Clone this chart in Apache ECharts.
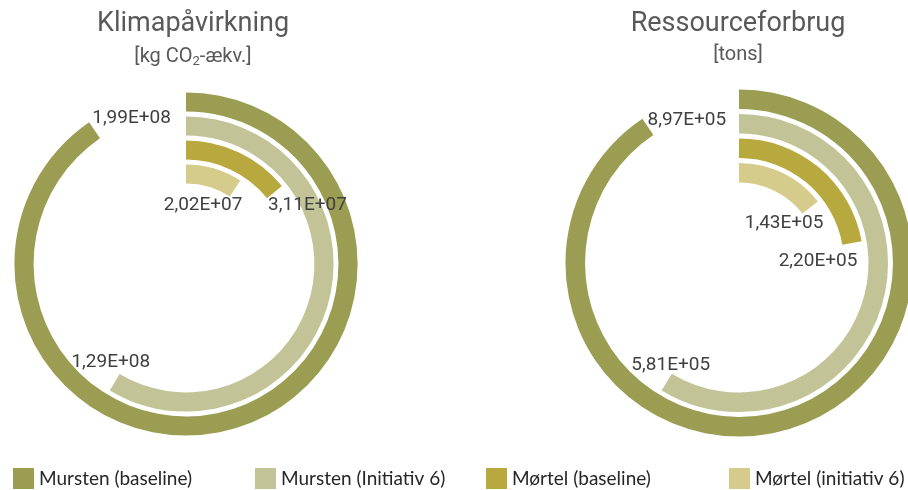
<!DOCTYPE html>
<html lang="da">
<head>
    <meta charset="UTF-8">
    <title>Klimapåvirkning og ressourceforbrug</title>
    <script src="https://cdn.jsdelivr.net/npm/echarts@6/dist/echarts.min.js"></script>
</head>
<body style="margin:0;">
<div id="container" style="width:908px;height:490px;"></div>
<script>
    var categories = ['Mursten (baseline)', 'Mursten (Initiativ 6)', 'Mørtel (baseline)', 'Mørtel (initiativ 6)'];
    var klima = [1.99e8, 1.29e8, 3.11e7, 2.02e7];        // kg CO2-ækv.
    var ressource = [8.97e5, 5.81e5, 2.20e5, 1.43e5];    // tons
    var colors = ['#9a9d52', '#c2c497', '#b8a93e', '#d5cc8b'];

    // 1.99e8 -> "1,99E+08"
    function fmtE(v) {
        var s = v.toExponential(2).split('e');
        var exp = parseInt(s[1], 10);
        return s[0].replace('.', ',') + 'E' + (exp < 0 ? '-' : '+') + String(Math.abs(exp)).padStart(2, '0');
    }

    // label nudges away from the ring ends, like the original layout
    var charts = [
        {values: klima, center: [186, 264], radius: [78, 174], max: 2.2e8,
            offsets: [[37, -12], [-4, -20], [33, 13], [-32, 17]]},
        {values: ressource, center: [739, 263], radius: [78, 176], max: 9.9e5,
            offsets: [[39, -7], [4, -17], [-34, 18], [-26, 16]]}
    ];

    var polar = [], angleAxis = [], radiusAxis = [], series = [];
    charts.forEach(function (c, k) {
        polar.push({center: c.center, radius: c.radius});
        angleAxis.push({
            polarIndex: k, type: 'value', min: 0, max: c.max, startAngle: 90, clockwise: true,
            axisLine: {show: false}, axisTick: {show: false}, axisLabel: {show: false}, splitLine: {show: false}
        });
        radiusAxis.push({
            polarIndex: k, type: 'category', data: categories, inverse: true,
            axisLine: {show: false}, axisTick: {show: false}, axisLabel: {show: false}, splitLine: {show: false}
        });
        categories.forEach(function (name, i) {
            series.push({
                name: name,
                type: 'bar',
                coordinateSystem: 'polar',
                polarIndex: k,
                stack: 'ring' + k,
                barWidth: '80%',
                itemStyle: {color: colors[i]},
                label: {
                    show: true,
                    position: 'end',
                    distance: 0,
                    rotate: 0,
                    align: 'center',
                    verticalAlign: 'middle',
                    offset: c.offsets[i],
                    color: '#404040',
                    fontFamily: 'Roboto',
                    fontSize: 19,
                    formatter: function (p) { return fmtE(p.value); }
                },
                data: categories.map(function (n, j) { return j === i ? c.values[i] : '-'; })
            });
        });
    });

    var legendLeft = [13, 255, 486, 729];
    var legend = categories.map(function (name, i) {
        return {
            data: [name], left: legendLeft[i], top: 468, padding: 0,
            itemWidth: 21, itemHeight: 21, icon: 'rect',
            textStyle: {fontFamily: 'Lato', fontSize: 19, color: '#262626'}
        };
    });

    var myChart = echarts.init(document.getElementById('container'));
    myChart.setOption({
        animation: false,
        backgroundColor: '#fff',
        title: [
            {
                text: 'Klimapåvirkning',
                subtext: '{a|[kg CO}{s|2}{a|-ækv.]}',
                left: 188, top: 6, textAlign: 'center', itemGap: 7,
                textStyle: {fontFamily: 'Roboto', fontSize: 27, fontWeight: 'normal', color: '#595959'},
                subtextStyle: {
                    rich: {
                        a: {fontFamily: 'Roboto', fontSize: 20, color: '#595959'},
                        s: {fontFamily: 'Roboto', fontSize: 13, color: '#595959', padding: [10, 0, 0, 0]}
                    }
                }
            },
            {
                text: 'Ressourceforbrug',
                subtext: '[tons]',
                left: 733, top: 6, textAlign: 'center', itemGap: 7,
                textStyle: {fontFamily: 'Roboto', fontSize: 27, fontWeight: 'normal', color: '#595959'},
                subtextStyle: {fontFamily: 'Roboto', fontSize: 20, color: '#595959'}
            }
        ],
        legend: legend,
        polar: polar,
        angleAxis: angleAxis,
        radiusAxis: radiusAxis,
        series: series
    });
</script>
</body>
</html>
